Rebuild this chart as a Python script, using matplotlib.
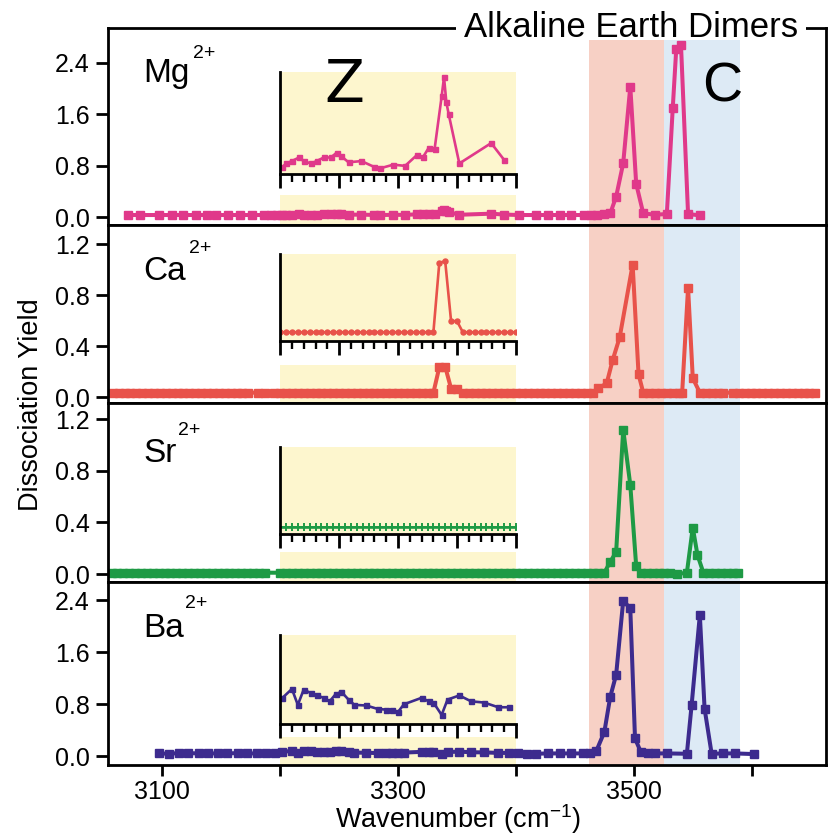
import matplotlib
matplotlib.use('Agg')
import matplotlib.pyplot as plt
from matplotlib.transforms import blended_transform_factory
from matplotlib.patches import Rectangle
from matplotlib.ticker import MultipleLocator

plt.rcParams['font.family'] = ['Liberation Sans', 'DejaVu Sans']
plt.rcParams['mathtext.fontset'] = 'custom'
plt.rcParams['mathtext.rm'] = 'Liberation Sans'
plt.rcParams['mathtext.it'] = 'Liberation Sans:italic'
plt.rcParams['mathtext.bf'] = 'Liberation Sans:bold'

# ---------------- data ----------------
ions = ['Mg', 'Ca', 'Sr', 'Ba']
colors = ['#E0398A', '#E8524A', '#1E9A45', '#3D2B8E']

# Mg2+
mg_x_lo = [3071, 3081, 3097, 3108, 3118, 3129, 3138, 3146, 3156, 3166, 3176, 3186, 3192, 3197]
mg_y_lo = [0.035, 0.035, 0.035, 0.035, 0.035, 0.035, 0.035, 0.035, 0.035, 0.035, 0.035, 0.035, 0.035, 0.035]
mg_zx = [3202, 3205, 3210, 3216, 3220, 3226, 3231, 3237, 3243, 3248, 3252, 3258, 3269, 3280,
         3285, 3296, 3306, 3316, 3321, 3326, 3331, 3337, 3339, 3341, 3343, 3352, 3379, 3390]
mg_zy = [0.036, 0.039, 0.041, 0.044, 0.041, 0.039, 0.041, 0.044, 0.044, 0.048, 0.045, 0.040, 0.041, 0.036,
         0.035, 0.038, 0.037, 0.046, 0.044, 0.052, 0.051, 0.095, 0.111, 0.090, 0.080, 0.039, 0.056, 0.042]
mg_x_hi = [3403, 3417, 3427, 3437, 3447, 3458, 3464, 3469, 3475, 3480, 3485, 3491, 3497, 3502,
           3508, 3518, 3528, 3533, 3536, 3540, 3546, 3556]
mg_y_hi = [0.035, 0.035, 0.035, 0.035, 0.035, 0.035, 0.04, 0.04, 0.045, 0.06, 0.32, 0.84, 2.03, 0.52,
           0.06, 0.04, 0.05, 1.69, 2.62, 2.68, 0.05, 0.03]

# Ca2+
ca_x_lo = [3058, 3063, 3068, 3073, 3078, 3083, 3088, 3093, 3098, 3103, 3108, 3113, 3118, 3123,
           3128, 3133, 3138, 3143, 3148, 3153, 3158, 3163, 3168, 3173, 3181, 3187, 3195]
ca_y_lo = [0.036, 0.036, 0.036, 0.036, 0.036, 0.036, 0.036, 0.036, 0.036, 0.036, 0.036, 0.036, 0.036, 0.036,
           0.036, 0.036, 0.036, 0.036, 0.036, 0.036, 0.036, 0.036, 0.036, 0.036, 0.036, 0.036, 0.036]
ca_zx = [3200, 3205, 3210, 3215, 3220, 3225, 3230, 3235, 3240, 3245, 3250, 3255, 3260, 3265,
         3270, 3275, 3280, 3285, 3290, 3295, 3300, 3305, 3310, 3315, 3320, 3325, 3330, 3335,
         3340, 3345, 3350, 3355, 3360, 3365, 3370, 3375, 3380, 3385, 3390, 3395, 3400]
ca_zy = [0.036, 0.036, 0.036, 0.036, 0.036, 0.036, 0.036, 0.036, 0.036, 0.036, 0.036, 0.036, 0.036, 0.036,
         0.036, 0.036, 0.036, 0.036, 0.036, 0.036, 0.036, 0.036, 0.036, 0.036, 0.036, 0.036, 0.036, 0.235,
         0.240, 0.068, 0.068, 0.036, 0.036, 0.036, 0.036, 0.036, 0.036, 0.036, 0.036, 0.036, 0.036]
ca_x_hi = [3405, 3410, 3415, 3420, 3425, 3430, 3435, 3440, 3445, 3450, 3455, 3460, 3465,
           3470, 3477, 3482, 3488, 3499, 3504, 3508,
           3513, 3518, 3523, 3528, 3533, 3538, 3541, 3546, 3550, 3556,
           3561, 3566, 3571, 3576, 3584, 3589, 3594, 3599, 3604, 3609, 3614, 3619, 3624, 3629,
           3634, 3639, 3644, 3649, 3654]
ca_y_hi = [0.036, 0.036, 0.036, 0.036, 0.036, 0.036, 0.036, 0.036, 0.036, 0.036, 0.036, 0.036, 0.036,
           0.07, 0.11, 0.29, 0.47, 1.04, 0.18, 0.036,
           0.036, 0.036, 0.036, 0.036, 0.036, 0.036, 0.036, 0.86, 0.15, 0.036,
           0.036, 0.036, 0.036, 0.036, 0.036, 0.036, 0.036, 0.036, 0.036, 0.036, 0.036, 0.036, 0.036, 0.036,
           0.036, 0.036, 0.036, 0.036, 0.036]

# Sr2+
sr_x_lo = [3057, 3062, 3067, 3072, 3077, 3082, 3087, 3092, 3097, 3102, 3107, 3112, 3117, 3122,
           3127, 3132, 3137, 3142, 3147, 3152, 3157, 3162, 3167, 3172, 3177, 3182, 3187]
sr_y_lo = [0.01, 0.01, 0.01, 0.01, 0.01, 0.01, 0.01, 0.01, 0.01, 0.01, 0.01, 0.01, 0.01, 0.01,
           0.01, 0.01, 0.01, 0.01, 0.01, 0.01, 0.01, 0.01, 0.01, 0.01, 0.01, 0.01, 0.01]
sr_zx = [3200, 3205, 3210, 3215, 3220, 3225, 3230, 3235, 3240, 3245, 3250, 3255, 3260, 3265,
         3270, 3275, 3280, 3285, 3290, 3295, 3300, 3305, 3310, 3315, 3320, 3325, 3330, 3335,
         3340, 3345, 3350, 3355, 3360, 3365, 3370, 3375, 3380, 3385, 3390, 3395, 3400]
sr_zy = [0.01, 0.01, 0.01, 0.01, 0.01, 0.01, 0.01, 0.01, 0.01, 0.01, 0.01, 0.01, 0.01, 0.01,
         0.01, 0.01, 0.01, 0.01, 0.01, 0.01, 0.01, 0.01, 0.01, 0.01, 0.01, 0.01, 0.01, 0.01,
         0.01, 0.01, 0.01, 0.01, 0.01, 0.01, 0.01, 0.01, 0.01, 0.01, 0.01, 0.01, 0.01]
sr_x_hi = [3405, 3410, 3415, 3420, 3425, 3430, 3435, 3440, 3445, 3450, 3455, 3460, 3465, 3470, 3475,
           3480, 3485, 3491, 3497, 3502,
           3506, 3511, 3516, 3521, 3526, 3531,
           3537, 3545, 3550, 3554,
           3559, 3564, 3569, 3574, 3579, 3584, 3588]
sr_y_hi = [0.01, 0.01, 0.01, 0.01, 0.01, 0.01, 0.01, 0.01, 0.01, 0.01, 0.01, 0.01, 0.01, 0.01, 0.01,
           0.095, 0.17, 1.12, 0.69, 0.062,
           0.01, 0.01, 0.01, 0.01, 0.01, 0.01,
           0.0, 0.01, 0.36, 0.147,
           0.01, 0.01, 0.01, 0.01, 0.01, 0.01, 0.01]

# Ba2+
ba_x_lo = [3097, 3106, 3114, 3122, 3131, 3139, 3147, 3155, 3164, 3172, 3180, 3188, 3196]
ba_y_lo = [0.04, 0.035, 0.045, 0.045, 0.04, 0.04, 0.04, 0.04, 0.045, 0.04, 0.04, 0.04, 0.045]
ba_zx = [3202, 3210, 3215, 3220, 3226, 3231, 3237, 3242, 3247, 3252, 3258, 3263, 3273, 3283,
         3290, 3295, 3300, 3305, 3320, 3326, 3330, 3337, 3342, 3352, 3362, 3373, 3385, 3394]
ba_zy = [0.064, 0.079, 0.052, 0.078, 0.072, 0.068, 0.064, 0.058, 0.070, 0.074, 0.061, 0.052, 0.051, 0.045,
         0.044, 0.044, 0.040, 0.053, 0.064, 0.058, 0.056, 0.035, 0.061, 0.068, 0.058, 0.056, 0.048, 0.048]
ba_x_hi = [3402, 3409, 3417, 3427, 3437, 3447, 3457, 3463, 3468, 3475, 3480, 3485, 3491, 3497,
           3501, 3506, 3512, 3518, 3528, 3545, 3549, 3556, 3560, 3566, 3576, 3586, 3602]
ba_y_hi = [0.045, 0.03, 0.035, 0.04, 0.04, 0.04, 0.04, 0.05, 0.07, 0.37, 0.91, 1.25, 2.39, 2.27,
           0.27, 0.06, 0.04, 0.04, 0.04, 0.035, 0.78, 2.17, 0.73, 0.035, 0.04, 0.04, 0.03]

series = [
    (mg_x_lo, mg_y_lo, mg_zx, mg_zy, mg_x_hi, mg_y_hi),
    (ca_x_lo, ca_y_lo, ca_zx, ca_zy, ca_x_hi, ca_y_hi),
    (sr_x_lo, sr_y_lo, sr_zx, sr_zy, sr_x_hi, sr_y_hi),
    (ba_x_lo, ba_y_lo, ba_zx, ba_zy, ba_x_hi, ba_y_hi),
]

ylims = [(-0.12, 2.94), (-0.045, 1.351), (-0.062, 1.326), (-0.138, 2.677)]
yticks = [[0, 0.8, 1.6, 2.4], [0, 0.4, 0.8, 1.2], [0, 0.4, 0.8, 1.2], [0, 0.8, 1.6, 2.4]]
inset_ylims = [(0.03, 0.115), (0.010, 0.26), (0.0, 0.115), (0.02, 0.17)]
xticks = [3100, 3200, 3300, 3400, 3500, 3600]
xticklabels = ['3100', '', '3300', '', '3500', '']
z_region = (3200, 3400)
red_region = (3462, 3526)
blue_region = (3526, 3590)

# ---------------- layout ----------------
W, H = 829, 836
fig = plt.figure(figsize=(W / 100, H / 100), dpi=100)

def fx(px):
    return px / W

def fy(py):
    return 1 - py / H

panel_px = [(28, 225), (225, 403), (403, 582), (582, 765)]
left_px, right_px = 108, 826
inset_frac = [(0.2576, 0.5167), (0.3463, 0.4898), (0.2665, 0.489), (0.2253, 0.4835)]
yellow_low = [0.15, 0.215, 0.17, 0.155]
inset_styles = [dict(marker='s', ms=3.6), dict(marker='o', ms=3.6),
                dict(marker='+', ms=5.5, mew=1.4), dict(marker='s', ms=3.6)]

yellow = '#FDF6CE'
red_c = '#F7D0C5'
blue_c = '#DDEAF5'
TICK_FS = 18

for i in range(4):
    top, bot = panel_px[i]
    ax = fig.add_axes([fx(left_px), fy(bot), (right_px - left_px) / W, (bot - top) / H])
    ax.set_xlim(3054, 3663)
    ax.set_ylim(*ylims[i])
    ax.axvspan(*z_region, ymin=0, ymax=yellow_low[i], color=yellow, lw=0, zorder=0)
    ax.axvspan(*red_region, color=red_c, lw=0, zorder=0)
    ax.axvspan(*blue_region, color=blue_c, lw=0, zorder=0)

    xlo, ylo, zx, zy, xhi, yhi = series[i]
    c = colors[i]
    ax.plot(xlo + zx + xhi, ylo + zy + yhi, color=c, lw=2.9, marker='s', ms=5.4,
            mfc=c, mec=c, zorder=3)

    for s in ax.spines.values():
        s.set_linewidth(2.0)
        s.set_zorder(5)
    ax.set_yticks(yticks[i])
    ax.set_yticklabels(['%.1f' % v for v in yticks[i]])
    ax.set_xticks(xticks)
    ax.set_xticklabels(xticklabels if i == 3 else [''] * len(xticks))
    ax.tick_params(axis='y', direction='out', length=9, width=2, labelsize=TICK_FS, pad=4)
    ax.tick_params(axis='x', direction='out', length=8, width=2, labelsize=TICK_FS, pad=2.5,
                   labelbottom=(i == 3))

    # inset (zoom on the Z region)
    trans = blended_transform_factory(ax.transData, ax.transAxes)
    b, h = inset_frac[i]
    ins = ax.inset_axes([z_region[0], b, z_region[1] - z_region[0], h], transform=trans)
    ins.set_facecolor(yellow)
    ins.set_xlim(*z_region)
    ins.set_ylim(*inset_ylims[i])
    ins.spines['top'].set_visible(False)
    ins.spines['right'].set_visible(False)
    ins.spines['left'].set_linewidth(2.0)
    ins.spines['bottom'].set_linewidth(2.0)
    ins.xaxis.set_major_locator(MultipleLocator(50))
    ins.xaxis.set_minor_locator(MultipleLocator(10))
    ins.tick_params(axis='x', which='major', direction='out', length=10, width=2.0, labelbottom=False)
    ins.tick_params(axis='x', which='minor', direction='out', length=6, width=1.7)
    ins.set_yticks([])
    ins.plot(zx, zy, color=c, lw=1.9, mfc=c, mec=c, **inset_styles[i])

# species labels
label_pos = [(143, 81.7, 193, 58), (143, 280, 189, 253), (143, 461.7, 178, 435), (143, 636.7, 185, 608)]
for i, (x0, y0, x1, y1) in enumerate(label_pos):
    fig.text(fx(x0), fy(y0), ions[i], fontsize=24, ha='left', va='baseline')
    fig.text(fx(x1), fy(y1), '2+', fontsize=14, ha='left', va='baseline')

fig.text(fx(344), fy(101.7), 'Z', fontsize=42, ha='center', va='baseline',
         family='DejaVu Sans', style='normal')
fig.text(fx(722.5), fy(102), 'C', fontsize=40, ha='center', va='baseline', style='normal')

# title breaking the top frame line
fig.add_artist(Rectangle((fx(456), fy(40)), (806 - 456) / W, 32 / H, transform=fig.transFigure,
                         facecolor='white', edgecolor='none', zorder=2))
fig.text(fx(631), fy(37), 'Alkaline Earth Dimers', fontsize=25, ha='center', va='baseline', zorder=3)

fig.text(fx(31), fy(405), 'Dissociation Yield', rotation=90, fontsize=19.5, ha='center', va='center')
fig.text(fx(458), fy(819), r'Wavenumber (cm$^{-1}$)', fontsize=19.5, ha='center', va='center')

fig.savefig('out.png', dpi=100, facecolor='white')
